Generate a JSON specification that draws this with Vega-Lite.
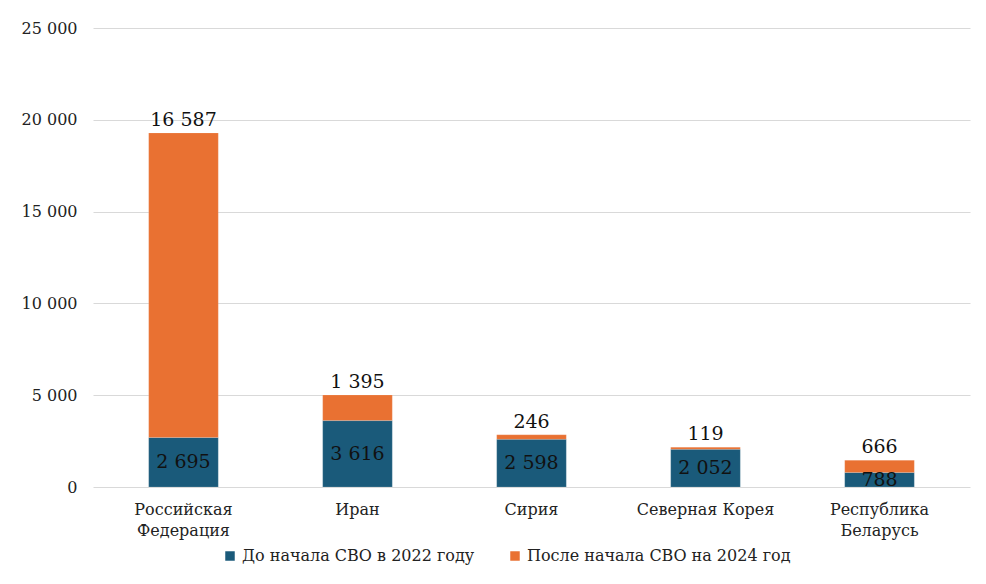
{
  "$schema": "https://vega.github.io/schema/vega-lite/v6.json",
  "autosize": "none",
  "width": 877,
  "height": 459,
  "padding": {"left": 93, "top": 28, "right": 16, "bottom": 97},
  "background": "white",
  "config": {
    "font": "DejaVu Serif",
    "view": {"stroke": null},
    "locale": {"number": {"decimal": ",", "thousands": " ", "grouping": [3], "currency": ["", ""]}}
  },
  "data": {"values": [
    {"country": "Российская Федерация", "period": "До начала СВО в 2022 году", "value": 2695},
    {"country": "Российская Федерация", "period": "После начала СВО на 2024 год", "value": 16587},
    {"country": "Иран", "period": "До начала СВО в 2022 году", "value": 3616},
    {"country": "Иран", "period": "После начала СВО на 2024 год", "value": 1395},
    {"country": "Сирия", "period": "До начала СВО в 2022 году", "value": 2598},
    {"country": "Сирия", "period": "После начала СВО на 2024 год", "value": 246},
    {"country": "Северная Корея", "period": "До начала СВО в 2022 году", "value": 2052},
    {"country": "Северная Корея", "period": "После начала СВО на 2024 год", "value": 119},
    {"country": "Республика Беларусь", "period": "До начала СВО в 2022 году", "value": 788},
    {"country": "Республика Беларусь", "period": "После начала СВО на 2024 год", "value": 666}
  ]},
  "encoding": {
    "x": {
      "field": "country", "type": "nominal", "sort": null,
      "scale": {"paddingInner": 0.6, "paddingOuter": 0.32},
      "axis": {
        "title": null, "labelAngle": 0, "domain": false, "ticks": false,
        "labelFontSize": 16, "labelColor": "#222", "labelPadding": 14, "labelLineHeight": 21,
        "labelExpr": "datum.value == 'Российская Федерация' ? ['Российская', 'Федерация'] : datum.value == 'Республика Беларусь' ? ['Республика', 'Беларусь'] : datum.value"
      }
    }
  },
  "layer": [
    {
      "mark": {"type": "bar", "stroke": "#ffffff", "strokeOpacity": 0.3, "strokeWidth": 0.5},
      "encoding": {
        "y": {
          "field": "value", "type": "quantitative", "stack": "zero",
          "scale": {"domain": [0, 25000]},
          "axis": {
            "title": null, "format": ",d", "values": [0, 5000, 10000, 15000, 20000, 25000],
            "domain": false, "ticks": false, "gridColor": "#d9d9d9", "gridWidth": 1,
            "labelFontSize": 16, "labelColor": "#222", "labelPadding": 16
          }
        },
        "color": {
          "field": "period", "type": "nominal",
          "scale": {"domain": ["До начала СВО в 2022 году", "После начала СВО на 2024 год"], "range": ["#1a5a7a", "#e97132"]},
          "legend": {
            "title": null, "orient": "none", "legendX": 129, "legendY": 520, "direction": "horizontal",
            "symbolType": "square", "symbolSize": 90, "labelFontSize": 16, "labelColor": "#222", "labelLimit": 400,
            "columnPadding": 32, "symbolStrokeWidth": 0
          }
        },
        "order": {"field": "period", "sort": "ascending"}
      }
    },
    {
      "transform": [{"filter": "datum.period == 'До начала СВО в 2022 году'"}],
      "mark": {"type": "text", "fontSize": 19, "baseline": "middle", "color": "#111"},
      "encoding": {
        "y": {"field": "value", "type": "quantitative", "scale": {"domain": [0, 50000]}, "axis": null},
        "text": {"field": "value", "type": "quantitative", "format": ",d"}
      }
    },
    {
      "transform": [
        {"joinaggregate": [{"op": "sum", "field": "value", "as": "total"}], "groupby": ["country"]},
        {"filter": "datum.period == 'После начала СВО на 2024 год'"}
      ],
      "mark": {"type": "text", "fontSize": 19, "baseline": "bottom", "dy": -3, "color": "#111"},
      "encoding": {
        "y": {"field": "total", "type": "quantitative", "scale": {"domain": [0, 25000]}, "axis": null},
        "text": {"field": "value", "type": "quantitative", "format": ",d"}
      }
    }
  ],
  "resolve": {"scale": {"y": "independent"}}
}
